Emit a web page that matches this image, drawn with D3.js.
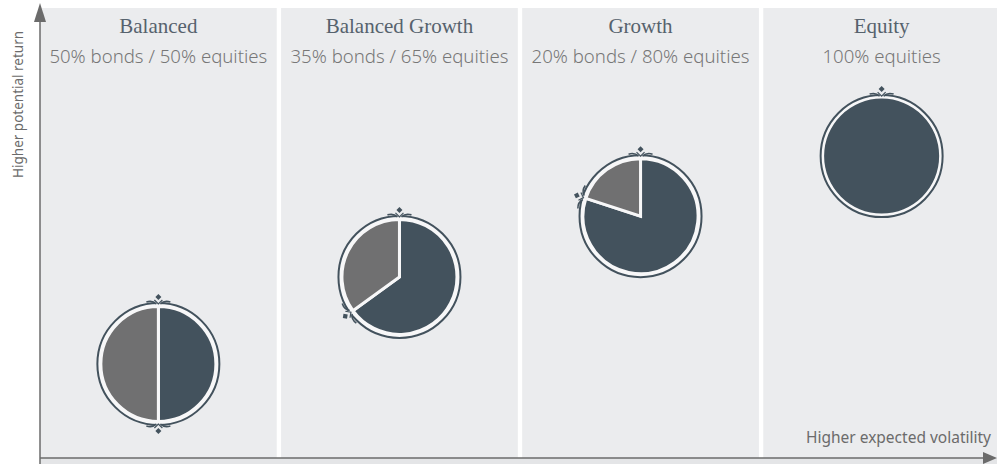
<!DOCTYPE html>
<html>
<head>
<meta charset="utf-8">
<script src="https://cdn.jsdelivr.net/npm/d3@7"></script>
<style>
  body { margin: 0; background: #fff; }
  svg { display: block; }
</style>
</head>
<body>
<div id="root"></div>
<script>
const portfolios = ["Balanced", "Balanced Growth", "Growth", "Equity"];
const mixes = ["50% bonds / 50% equities", "35% bonds / 65% equities", "20% bonds / 80% equities", "100% equities"];
const bonds = [50, 35, 20, 0];
const equities = [50, 65, 80, 100];
// relative position on the "higher potential return" axis
const returnLevel = [0.2, 0.464, 0.648, 0.83];

const outerWidth = 997;
const outerHeight = 464;

const axisX = 40;
const axisY = 458;

const ink = "#6b6b6b";
const equityColor = "#43525d";
const bondColor = "#707071";
const panelColor = "#ebecee";

let svg = d3.select("#root")
            .append("svg")
            .attr("width", outerWidth)
            .attr("height", outerHeight);

let scaleX = d3.scaleBand()
               .domain(portfolios)
               .range([axisX, 1000])
               .paddingInner(0.018);

let scaleY = d3.scaleLinear().domain([0, 1]).range([430, 100]);

// light strip under x axis
svg.append("rect")
   .attr("x", axisX).attr("y", axisY)
   .attr("width", outerWidth - axisX).attr("height", outerHeight - axisY)
   .attr("fill", "#e4e5e7");

// panels
svg.selectAll(".panel")
   .data(portfolios)
   .enter().append("rect")
   .attr("class", "panel")
   .attr("x", d => scaleX(d))
   .attr("y", 8)
   .attr("width", scaleX.bandwidth())
   .attr("height", axisY - 8)
   .attr("fill", panelColor);

svg.selectAll(".title")
   .data(portfolios)
   .enter().append("text")
   .attr("class", "title")
   .attr("x", d => scaleX(d) + scaleX.bandwidth() / 2)
   .attr("y", 33)
   .attr("text-anchor", "middle")
   .style("font-family", "'Liberation Serif', serif")
   .style("font-size", "21px")
   .attr("fill", "#56626d")
   .text(d => d);

svg.selectAll(".mix")
   .data(mixes)
   .enter().append("text")
   .attr("class", "mix")
   .attr("x", (d, i) => scaleX(portfolios[i]) + scaleX.bandwidth() / 2)
   .attr("y", 63)
   .attr("text-anchor", "middle")
   .style("font-family", "'Noto Sans', sans-serif")
   .style("font-size", "18.6px")
   .style("font-weight", 300)
   .attr("fill", "#777777")
   .text(d => d);

// pies
const R = 61;
const pieR = 57.5;
const arc = d3.arc().innerRadius(0).outerRadius(pieR);
const pie = d3.pie().sort(null).value(d => d.v);

function ornament(g, angle) {
    let o = g.append("g").attr("transform", `rotate(${angle})`);
    // gap in the ring
    o.append("path")
     .attr("d", d3.arc().innerRadius(R - 1.5).outerRadius(R + 1.5)
                 .startAngle(-0.05).endAngle(0.05)())
     .attr("fill", panelColor);
    // curls either side
    [-1, 1].forEach(s => {
        o.append("path")
         .attr("d", `M${s * 2},${-R + 1} Q${s * 6},${-R - 3} ${s * 12},${-R - 1}`)
         .attr("fill", "none")
         .attr("stroke", equityColor)
         .attr("stroke-width", 1.6);
    });
    o.append("path")
     .attr("d", `M0,${-R - 9} L3,${-R - 6} L0,${-R - 3} L-3,${-R - 6} Z`)
     .attr("fill", equityColor);
    o.append("path")
     .attr("d", `M-4,${-R - 3} L0,${-R + 1} L4,${-R - 3}`)
     .attr("fill", "none")
     .attr("stroke", equityColor)
     .attr("stroke-width", 1.2);
}

portfolios.forEach((p, i) => {
    let g = svg.append("g")
               .attr("transform", `translate(${scaleX(p) + scaleX.bandwidth() / 2}, ${scaleY(returnLevel[i])})`);

    g.append("circle")
     .attr("r", R)
     .attr("fill", "#f7f7f8")
     .attr("stroke", equityColor)
     .attr("stroke-width", 2);

    let slices = pie([{ k: "equities", v: equities[i] }, { k: "bonds", v: bonds[i] }]);
    g.selectAll(".slice")
     .data(slices.filter(d => d.data.v > 0))
     .enter().append("path")
     .attr("class", "slice")
     .attr("d", arc)
     .attr("fill", d => d.data.k === "equities" ? equityColor : bondColor)
     .attr("stroke", d => bonds[i] > 0 ? "#f7f7f8" : "none")
     .attr("stroke-width", 3)
     .attr("stroke-linejoin", "miter");

    ornament(g, 0);
    if (bonds[i] > 0 && equities[i] > 0) {
        ornament(g, slices[0].endAngle * 180 / Math.PI);
    }
});

// axes
svg.append("line")
   .attr("x1", axisX).attr("x2", axisX)
   .attr("y1", axisY + 6).attr("y2", 20)
   .attr("stroke", ink).attr("stroke-width", 1.5);
svg.append("path")
   .attr("d", `M${axisX},3 L${axisX + 6},22 L${axisX - 6},22 Z`)
   .attr("fill", ink);

svg.append("line")
   .attr("x1", axisX).attr("x2", 985)
   .attr("y1", axisY).attr("y2", axisY)
   .attr("stroke", ink).attr("stroke-width", 1.5);
svg.append("path")
   .attr("d", `M997,${axisY} L983,${axisY - 6} L983,${axisY + 6} Z`)
   .attr("fill", ink);

svg.append("text")
   .attr("transform", "rotate(-90)")
   .attr("x", -178)
   .attr("y", 23)
   .style("font-family", "'Noto Sans', sans-serif")
   .style("font-size", "13.5px")
   .attr("fill", ink)
   .text("Higher potential return");

svg.append("text")
   .attr("x", 991)
   .attr("y", 443)
   .attr("text-anchor", "end")
   .style("font-family", "'Noto Sans', sans-serif")
   .style("font-size", "15.5px")
   .attr("fill", ink)
   .text("Higher expected volatility");
</script>
</body>
</html>
